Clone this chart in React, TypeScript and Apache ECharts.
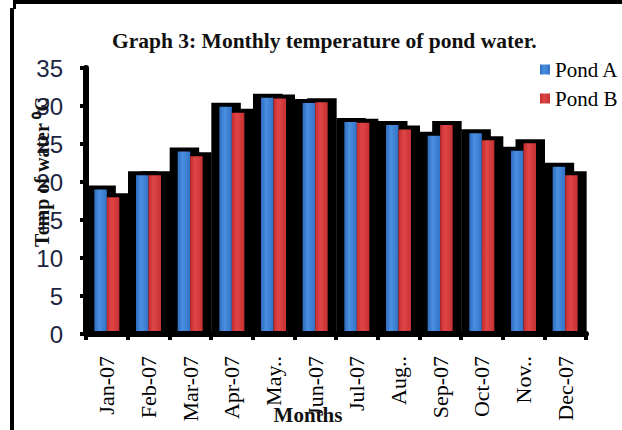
import React, { useEffect, useRef } from "react";
import * as echarts from "echarts";

const categories = ["Jan-07", "Feb-07", "Mar-07", "Apr-07", "May..", "Jun-07", "Jul-07", "Aug..", "Sep-07", "Oct-07", "Nov..", "Dec-07"];
const pondA = [19.0, 20.9, 24.0, 29.9, 31.1, 30.4, 27.9, 27.5, 26.1, 26.4, 24.1, 22.0];
const pondB = [18.0, 20.9, 23.4, 29.1, 31.0, 30.5, 27.8, 26.9, 27.5, 25.5, 25.1, 20.9];
const seriesNames = ["Pond A", "Pond B"];
const yTicks = { min: 0, max: 35, interval: 5 };

const SERIF = "'Liberation Serif', 'Times New Roman', serif";
const SANS = "Liberation Sans";

function shadowRender(side: number) {
  return (params: any, api: any) => {
    const c = api.coord([api.value(0), api.value(1)]);
    const base = api.coord([api.value(0), 0]);
    const band = api.size([1, 0])[0];
    const bw = band * 0.3;
    const left = side === 0 ? c[0] - bw - 8 : c[0] - 8;
    const right = side === 0 ? c[0] + 9 : c[0] + bw + 9;
    const top = c[1] - 4;
    return {
      type: "rect",
      shape: { x: left, y: top, width: right - left, height: base[1] - top },
      style: { fill: "#000" },
    };
  };
}

export default function App() {
  const ref = useRef<HTMLDivElement>(null);
  useEffect(() => {
    if (!ref.current) return;
    const chart = echarts.init(ref.current, null, { renderer: "svg" });
    const blue = new echarts.graphic.LinearGradient(0, 0, 1, 0, [
      { offset: 0, color: "#2f6cbf" },
      { offset: 0.4, color: "#4a8fe0" },
      { offset: 1, color: "#3372c6" },
    ]);
    const red = new echarts.graphic.LinearGradient(0, 0, 1, 0, [
      { offset: 0, color: "#c22c2e" },
      { offset: 0.4, color: "#e04546" },
      { offset: 1, color: "#c53133" },
    ]);
    const legendText = { fontFamily: SERIF, fontSize: 21, color: "#000", fontWeight: "normal" };
    chart.setOption({
      animation: false,
      backgroundColor: "#fff",
      textStyle: { fontFamily: SERIF },
      title: {
        text: "Graph 3: Monthly temperature of pond water.",
        left: 112,
        top: 30,
        padding: 0,
        textStyle: { fontFamily: SERIF, fontWeight: "bold", fontSize: 21.5, color: "#111" },
      },
      legend: {
        data: seriesNames.map((n) => ({ name: n, textStyle: legendText })),
        orient: "vertical",
        left: 540,
        top: 59,
        icon: "rect",
        itemWidth: 10,
        itemHeight: 10,
        itemGap: 8,
        padding: 0,
        textStyle: legendText,
      },
      grid: { left: 86, right: 36, top: 68, bottom: 96, containLabel: false },
      xAxis: {
        type: "category",
        data: categories,
        z: 5,
        axisLine: { show: true, lineStyle: { color: "#000", width: 6 } },
        axisTick: { show: true, length: 6, lineStyle: { color: "#000", width: 4 } },
        axisLabel: {
          interval: 0,
          rotate: 90,
          margin: 22,
          fontFamily: SERIF,
          fontSize: 22,
          color: "#000",
        },
        splitLine: { show: false },
      },
      yAxis: {
        type: "value",
        min: yTicks.min,
        max: yTicks.max,
        interval: yTicks.interval,
        z: 5,
        axisLine: { show: true, lineStyle: { color: "#000", width: 6 } },
        axisTick: { show: true, length: 6, lineStyle: { color: "#000", width: 4 } },
        axisLabel: { margin: 23, fontFamily: SANS, fontSize: 24, color: "#1c2541" },
        splitLine: { show: false },
      },
      series: [
        {
          type: "custom",
          name: "shadowA",
          renderItem: shadowRender(0),
          data: pondA.map((v, i) => [i, v]),
          encode: { x: 0, y: 1 },
          z: 1,
          silent: true,
        },
        {
          type: "custom",
          name: "shadowB",
          renderItem: shadowRender(1),
          data: pondB.map((v, i) => [i, v]),
          encode: { x: 0, y: 1 },
          z: 1,
          silent: true,
        },
        {
          type: "bar",
          name: seriesNames[0],
          data: pondA,
          barWidth: "30%",
          barGap: "0%",
          itemStyle: { color: blue },
          z: 2,
        },
        {
          type: "bar",
          name: seriesNames[1],
          data: pondB,
          barWidth: "30%",
          barGap: "0%",
          itemStyle: { color: red },
          z: 2,
        },
      ],
      graphic: [
        { type: "rect", shape: { x: 13, y: 0, width: 609, height: 4 }, style: { fill: "#000" } },
        { type: "rect", shape: { x: 10, y: 8, width: 4, height: 422 }, style: { fill: "#000" } },
        { type: "rect", shape: { x: 13, y: 0, width: 3, height: 9 }, style: { fill: "#000" } },
        {
          type: "text",
          x: 42,
          y: 172,
          rotation: Math.PI / 2,
          z: 10,
          style: {
            text: "Temp of water \u2070C",
            font: "bold 20px " + SERIF,
            fill: "#111",
            textAlign: "center",
            textVerticalAlign: "middle",
          },
        },
        {
          type: "text",
          x: 308,
          y: 415,
          z: 10,
          style: {
            text: "Months",
            font: "bold 21px " + SERIF,
            fill: "#111",
            textAlign: "center",
            textVerticalAlign: "middle",
          },
        },
      ],
    });
    return () => chart.dispose();
  }, []);
  return (
    <div
      ref={ref}
      style={{ position: "absolute", left: 0, top: 0, width: 622, height: 430 }}
    />
  );
}
